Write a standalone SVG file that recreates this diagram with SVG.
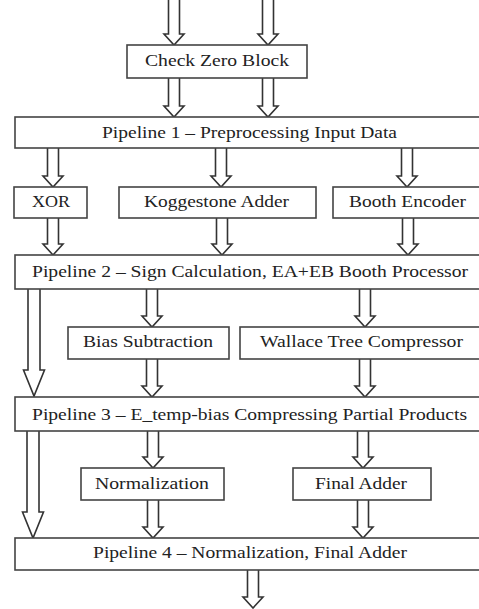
<svg xmlns="http://www.w3.org/2000/svg" width="479" height="609" viewBox="0 0 479 609">
<style>
.box{fill:#fff;stroke:#444;stroke-width:1.6}
.arr{fill:#fff;stroke:#333;stroke-width:1.6;stroke-linejoin:miter}
text{font-family:"Liberation Serif","Times New Roman",serif;font-size:16px;fill:#222}
</style>
<rect width="479" height="609" fill="#fff"/>
<g id="connectors">
<path class="arr" d="M168.5,0 V34 H164 L174,45 L184,34 H179.5 V0"/>
<path class="arr" d="M262.5,0 V34 H258 L268,45 L278,34 H273.5 V0"/>
<path class="arr" d="M168.5,78 V106 H164 L174,117 L184,106 H179.5 V78"/>
<path class="arr" d="M262.5,78 V106 H258 L268,117 L278,106 H273.5 V78"/>
<path class="arr" d="M47.5,148 V176 H43 L53,187 L63,176 H58.5 V148"/>
<path class="arr" d="M215.5,148 V176 H211 L221,187 L231,176 H226.5 V148"/>
<path class="arr" d="M401.5,148 V176 H397 L407,187 L417,176 H412.5 V148"/>
<path class="arr" d="M47.5,218 V244 H43 L53,255 L63,244 H58.5 V218"/>
<path class="arr" d="M216.5,218 V244 H212 L222,255 L232,244 H227.5 V218"/>
<path class="arr" d="M402.5,218 V244 H398 L408,255 L418,244 H413.5 V218"/>
<path class="arr" d="M146.5,289 V316 H142 L152,327 L162,316 H157.5 V289"/>
<path class="arr" d="M359.5,289 V316 H355 L365,327 L375,316 H370.5 V289"/>
<path class="arr" d="M146.5,359 V386 H142 L152,397 L162,386 H157.5 V359"/>
<path class="arr" d="M359.5,359 V386 H355 L365,397 L375,386 H370.5 V359"/>
<path class="arr" d="M147.5,431 V457 H143 L153,468 L163,457 H158.5 V431"/>
<path class="arr" d="M357.5,431 V457 H353 L363,468 L373,457 H368.5 V431"/>
<path class="arr" d="M147.5,500 V527 H143 L153,538 L163,527 H158.5 V500"/>
<path class="arr" d="M357.5,500 V527 H353 L363,538 L373,527 H368.5 V500"/>
<path class="arr" d="M247.5,570 V597 H243 L253,608 L263,597 H258.5 V570"/>
<path class="arr" d="M28,289 V370 H23.5 L34,396 L44.5,370 H40 V289"/>
<path class="arr" d="M27,431 V512 H22.5 L33,538 L43.5,512 H39 V431"/>
</g>
<g id="check-zero"><rect class="box" x="127" y="45" width="180" height="33"/><text x="145" y="66" textLength="144" lengthAdjust="spacingAndGlyphs">Check Zero Block</text></g>
<g id="pipeline1"><rect class="box" x="15" y="117" width="480" height="31"/><text x="102" y="138" textLength="295" lengthAdjust="spacingAndGlyphs">Pipeline 1 – Preprocessing Input Data</text></g>
<g id="xor"><rect class="box" x="14" y="187" width="73" height="31"/><text x="32" y="207" textLength="38" lengthAdjust="spacingAndGlyphs">XOR</text></g>
<g id="koggestone"><rect class="box" x="119" y="187" width="197" height="31"/><text x="144" y="207" textLength="145" lengthAdjust="spacingAndGlyphs">Koggestone Adder</text></g>
<g id="booth-encoder"><rect class="box" x="333" y="187" width="160" height="31"/><text x="349" y="207" textLength="117" lengthAdjust="spacingAndGlyphs">Booth Encoder</text></g>
<g id="pipeline2"><rect class="box" x="15" y="255" width="480" height="34"/><text x="32" y="277" textLength="436" lengthAdjust="spacingAndGlyphs">Pipeline 2 – Sign Calculation, EA+EB Booth Processor</text></g>
<g id="bias-subtraction"><rect class="box" x="68" y="327" width="161" height="32"/><text x="83" y="347" textLength="130" lengthAdjust="spacingAndGlyphs">Bias Subtraction</text></g>
<g id="wallace"><rect class="box" x="240" y="327" width="250" height="32"/><text x="260" y="347" textLength="203" lengthAdjust="spacingAndGlyphs">Wallace Tree Compressor</text></g>
<g id="pipeline3"><rect class="box" x="15" y="397" width="480" height="34"/><text x="32" y="420" textLength="435" lengthAdjust="spacingAndGlyphs">Pipeline 3 – E_temp-bias Compressing Partial Products</text></g>
<g id="normalization"><rect class="box" x="81" y="468" width="143" height="32"/><text x="95" y="489" textLength="114" lengthAdjust="spacingAndGlyphs">Normalization</text></g>
<g id="final-adder"><rect class="box" x="293" y="468" width="138" height="32"/><text x="315" y="489" textLength="92" lengthAdjust="spacingAndGlyphs">Final Adder</text></g>
<g id="pipeline4"><rect class="box" x="15" y="538" width="480" height="32"/><text x="93" y="558" textLength="314" lengthAdjust="spacingAndGlyphs">Pipeline 4 – Normalization, Final Adder</text></g>
</svg>
